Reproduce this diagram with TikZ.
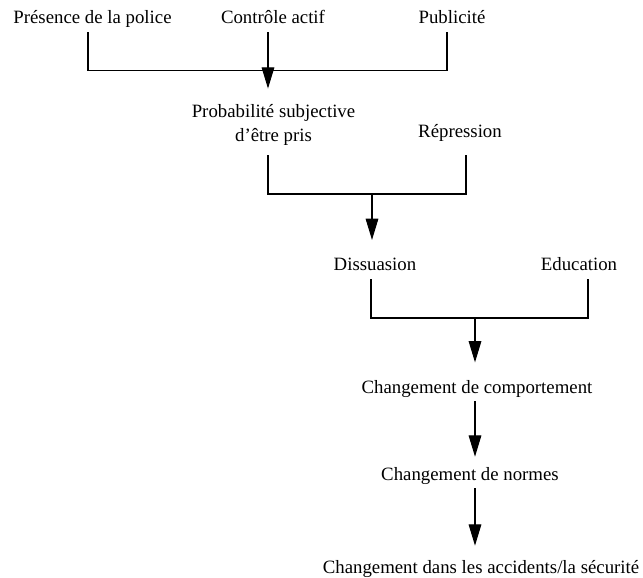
\documentclass[tikz,border=0pt]{standalone}
\usepackage{fontspec}
\setmainfont{Liberation Serif}
\usetikzlibrary{arrows.meta}

\tikzset{
  lbl/.style={font=\fontsize{14.1}{17.3}\selectfont, inner sep=3pt, align=center, anchor=base},
  link/.style={line width=0.8pt},
  flow/.style={link, -{Triangle[length=16pt,width=9.5pt]}},
}

\begin{document}
\begin{tikzpicture}[x=0.75pt, y=-0.75pt]
		\useasboundingbox (0,0) rectangle (643,578);
		
		% Sources
		\node[lbl] (pres) at (92.5,23) {Présence de la police};
		\node[lbl] (ctrl) at (273,23) {Contrôle actif};
		\node[lbl] (pub) at (452,23) {Publicité};
		
		% Intermediate factors
		\node[lbl] (prob) at (273.5,141) {Probabilité subjective\\d’être pris};
		\node[lbl] (rep) at (460,137) {Répression};
		\node[lbl] (dis) at (375,270) {Dissuasion};
		\node[lbl] (edu) at (579,270) {Education};
		
		% Outcomes
		\node[lbl] (comp) at (477,393) {Changement de comportement};
		\node[lbl] (norm) at (470,480) {Changement de normes};
		\node[lbl] (acc) at (481,573) {Changement dans les accidents/la sécurité};
		
		% First bracket
		\coordinate (t1l) at (88,32);
		\coordinate (t1m) at (268,32);
		\coordinate (t1r) at (447,32);
		\coordinate (b1l) at (88,70.5);
		\coordinate (b1r) at (447,70.5);
		\draw[link] (t1l) -- (b1l) -- (b1r) -- (t1r);
		\draw[flow, shorten >=9pt] (t1m) -- (t1m |- prob.north);
		
		% Second bracket
		\coordinate (t2l) at (268,155);
		\coordinate (t2r) at (466,155);
		\coordinate (b2l) at (268,194);
		\coordinate (b2m) at (372,194);
		\coordinate (b2r) at (466,194);
		\draw[link] (t2l) -- (b2l) -- (b2r) -- (t2r);
		\draw[flow, shorten >=10pt] (b2m) -- (b2m |- dis.north);
		
		% Third bracket
		\coordinate (t3l) at (371,279);
		\coordinate (t3r) at (588,279);
		\coordinate (b3l) at (371,318);
		\coordinate (b3m) at (475,318);
		\coordinate (b3r) at (588,318);
		\draw[link] (t3l) -- (b3l) -- (b3r) -- (t3r);
		\draw[flow, shorten >=10pt] (b3m) -- (b3m |- comp.north);
		
		% Chain of changes
		\draw[flow, shorten >=4.5pt] (comp.south -| b3m) -- (b3m |- norm.north);
		\draw[flow, shorten >=7.5pt] (norm.south -| b3m) -- (b3m |- acc.north);
		
	\end{tikzpicture}
\end{document}
